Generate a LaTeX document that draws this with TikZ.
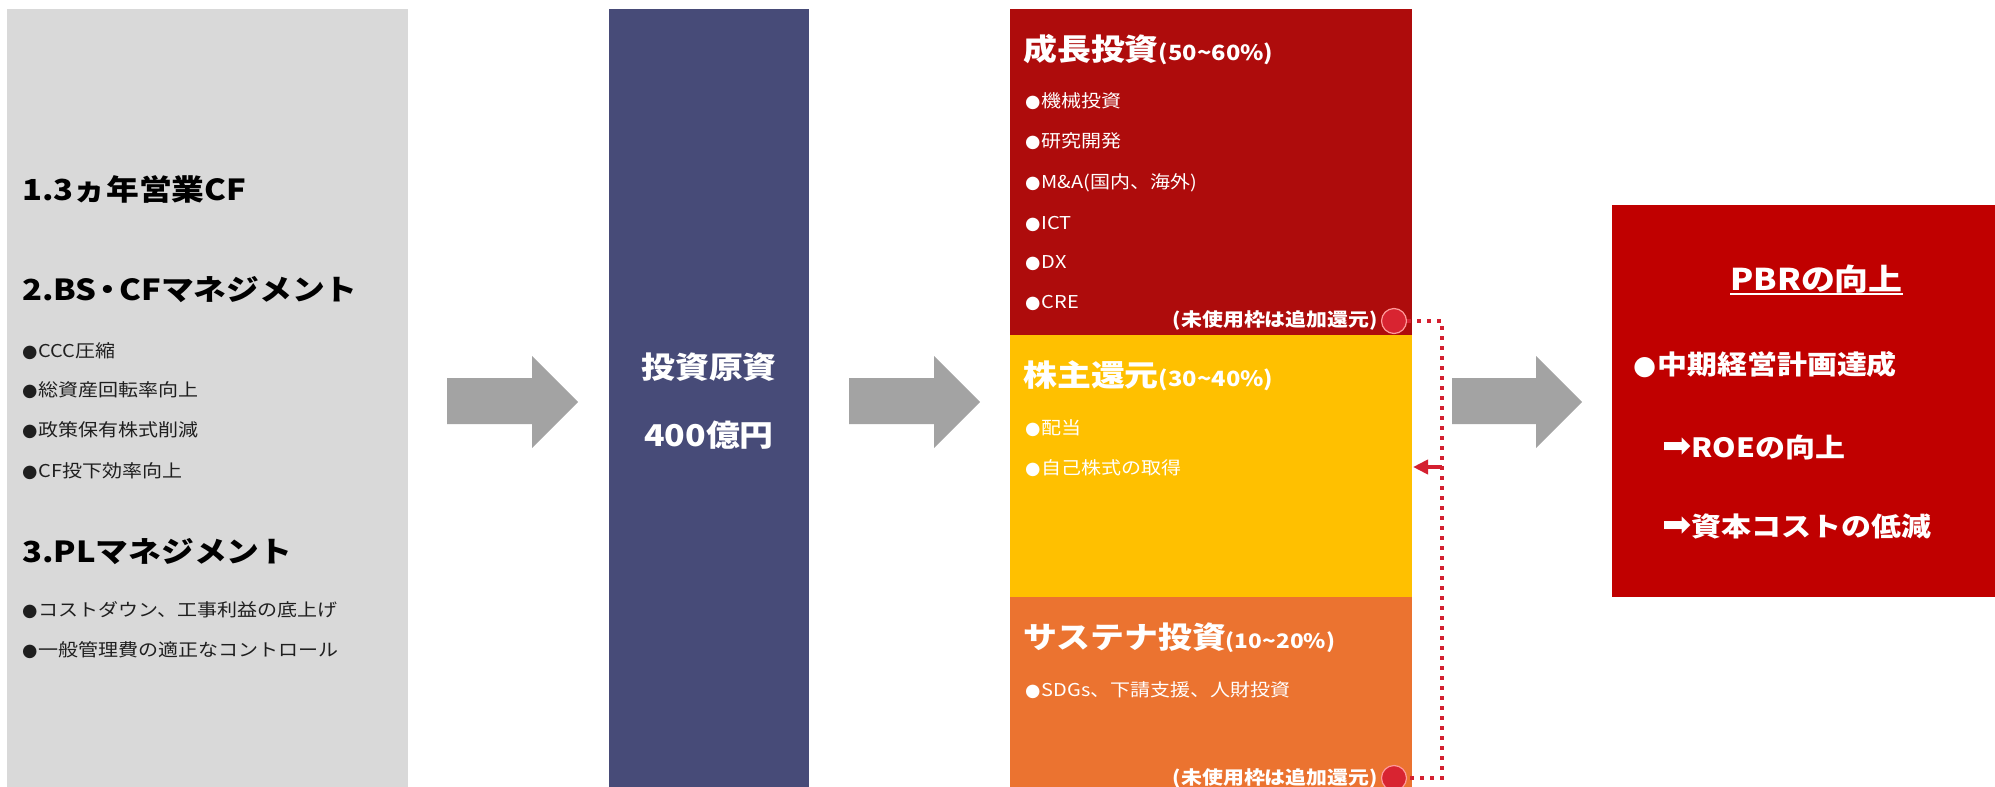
\documentclass[tikz,border=0pt]{standalone}
\usepackage{fontspec}
\setmainfont{Noto Sans CJK JP}[FakeStretch=1.13]
\newfontfamily\symfont{DejaVu Sans}
\usetikzlibrary{arrows.meta}
\definecolor{boxgray}{HTML}{D9D9D9}
\definecolor{navy}{HTML}{474B78}
\definecolor{growth}{HTML}{AE0C0C}
\definecolor{share}{HTML}{FFC000}
\definecolor{susta}{HTML}{EB7330}
\definecolor{pbrred}{HTML}{C00000}
\definecolor{arrgray}{HTML}{A3A3A3}
\definecolor{dotred}{HTML}{D42030}
\definecolor{circred}{HTML}{D82431}
\newcommand\fsz[1]{\fontsize{#1}{#1}\selectfont}
\newcommand\bul{{\symfont\mdseries ●}\kern1pt}
\newcommand\rarr{{\fsz{35}\symfont\mdseries ➡}}
\tikzset{
  panel/.style={draw=none, inner sep=0pt, anchor=north west},
  tx/.style={inner sep=0pt, anchor=base west},
  head/.style={tx, font=\fsz{29}\bfseries, text=black},
  item/.style={tx, font=\fsz{17.7}, text=black!88},
  witem/.style={tx, font=\fsz{17.7}, text=white},
  wtitle/.style={tx, font=\bfseries, text=white},
  note/.style={inner sep=0pt, anchor=base east, font=\fsz{18.5}\bfseries, text=white},
  cashtxt/.style={inner sep=0pt, anchor=base, font=\fsz{30}\bfseries, text=white},
  pbrtxt/.style={tx, font=\fsz{26.5}\bfseries, text=white},
  flowarrow/.style={fill=arrgray, draw=none},
  reddot/.style={draw=dotred, line width=4pt, dash pattern=on 4pt off 6pt},
  knob/.style={circle, fill=circred, draw=red!40!white, line width=1.2pt, minimum size=25pt, inner sep=0pt}
}
\begin{document}
\begin{tikzpicture}[x=1pt, y=-1pt]
\useasboundingbox (0,0) rectangle (1995,787);

% panels
\node[panel, fill=boxgray, minimum width=401pt, minimum height=778pt] (src) at (7,9) {};
\node[panel, fill=navy, minimum width=200pt, minimum height=778pt] (cash) at (609,9) {};
\node[panel, fill=growth, minimum width=402pt, minimum height=326pt] (grow) at (1010,9) {};
\node[panel, fill=share, minimum width=402pt, minimum height=262pt] (shr) at (1010,335) {};
\node[panel, fill=susta, minimum width=402pt, minimum height=190pt] (sus) at (1010,597) {};
\node[panel, fill=pbrred, minimum width=383pt, minimum height=392pt] (pbr) at (1612,205) {};

% big arrows
\fill[flowarrow] (447,378) -- (532,378) -- (532,356) -- (578,402) -- (532,448) -- (532,424) -- (447,424) -- cycle;
\fill[flowarrow] (849,378) -- (934,378) -- (934,356) -- (980,402) -- (934,448) -- (934,424) -- (849,424) -- cycle;
\fill[flowarrow] (1452,378) -- (1536,378) -- (1536,356) -- (1582,402) -- (1536,448) -- (1536,424) -- (1452,424) -- cycle;

% left panel text
\node[head] (l1) at (22,200) {1.3ヵ年営業CF};
\node[head] (l2) at (22,300) {2.BS\kern-5pt・\kern-5pt CFマネジメント};
\node[item] (l21) at (22,357) {\bul CCC圧縮};
\node[item] (l22) at (22,396) {\bul 総資産回転率向上};
\node[item] (l23) at (22,436) {\bul 政策保有株式削減};
\node[item] (l24) at (22,477) {\bul CF投下効率向上};
\node[head] (l3) at (22,562) {3.PLマネジメント};
\node[item] (l31) at (22,616) {\bul コストダウン、工事利益の底上げ};
\node[item] (l32) at (22,656) {\bul 一般管理費の適正なコントロール};

% cash
\node[cashtxt] (c1) at (709,378) {投資原資};
\node[cashtxt] (c2) at (709,446) {400億円};

% growth
\node[wtitle] (g0) at (1023,60) {{\fsz{30}成長投資}{\fsz{21}(50{\char"7E}60\%)}};
\node[witem] (g1) at (1025,107) {\bul 機械投資};
\node[witem] (g2) at (1025,147) {\bul 研究開発};
\node[witem] (g3) at (1025,188) {\bul M\&A(国内、海外)};
\node[witem] (g4) at (1025,229) {\bul ICT};
\node[witem] (g5) at (1025,268) {\bul DX};
\node[witem] (g6) at (1025,308) {\bul CRE};
\node[note] (gn) at (1378,326) {(未使用枠は追加還元)};
\node[knob] (k1) at (1394,321) {};

% shareholder return
\node[wtitle] (s0) at (1023,386) {{\fsz{30}株主還元}{\fsz{21}(30{\char"7E}40\%)}};
\node[witem] (s1) at (1025,434) {\bul 配当};
\node[witem] (s2) at (1025,474) {\bul 自己株式の取得};

% sustainability
\node[wtitle] (u0) at (1023,648) {{\fsz{30}サステナ投資}{\fsz{20}(10{\char"7E}20\%)}};
\node[witem] (u1) at (1025,696) {\bul SDGs、下請支援、人財投資};
\node[note] (un) at (1378,784) {(未使用枠は追加還元)};
\node[knob] (k2) at (1394,778) {};

% dotted return connector
\coordinate (ct) at (1442,321);
\coordinate (cb) at (1442,778);
\coordinate (cj) at (1442,467);
\coordinate (ce) at (1413,467);
\draw[reddot] (k1.east) -- (ct) -- (cb) -- (k2.east);
\draw[reddot, dash pattern=, -{Triangle[length=15pt, width=14pt]}] (cj) -- (ce);

% PBR
\node[tx, font=\fsz{30}\bfseries, text=white] (p0) at (1730,290) {PBRの向上};
\draw[white, line width=2pt] ([yshift=-4pt]p0.base west) -- ([yshift=-4pt]p0.base east);
\node[pbrtxt] (p1) at (1633,374) {\bul 中期経営計画達成};
\node[pbrtxt] (p2) at (1662,457) {\rarr ROEの向上};
\node[pbrtxt] (p3) at (1662,536) {\rarr 資本コストの低減};
\end{tikzpicture}
\end{document}
